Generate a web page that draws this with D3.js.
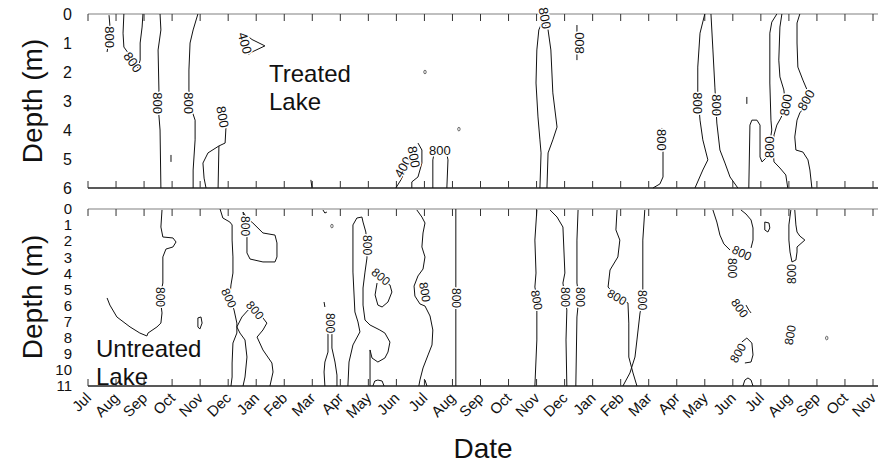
<!DOCTYPE html>
<html>
<head>
<meta charset="utf-8">
<script src="https://d3js.org/d3.v7.min.js"></script>
<style>
  body { margin: 0; background: #fff; }
  svg text { font-family: "Liberation Sans", Arial, sans-serif; fill: #111; }
</style>
</head>
<body>
<div id="chart"></div>
<script>
// month ticks, Jul (yr 1) .. Nov (yr 3)
var months = ["Jul","Aug","Sep","Oct","Nov","Dec","Jan","Feb","Mar","Apr","May","Jun",
              "Jul","Aug","Sep","Oct","Nov","Dec","Jan","Feb","Mar","Apr","May","Jun",
              "Jul","Aug","Sep","Oct","Nov"];
var treatedDepths = [0, 1, 2, 3, 4, 5, 6];
var untreatedDepths = [0, 1, 2, 3, 4, 5, 6, 7, 8, 9, 10, 11];

// contour polylines, points are [month index, depth (m)]
var treatedLines = [
  [[0.75,0.04],[0.78,0.38],[0.75,0.9],[0.68,1.31]],
  [[1.28,0],[1.25,0.66],[1.28,1.14],[1.43,1.34],[1.61,1.66],[1.78,1.86],[1.86,1.59],[1.86,1.0],[1.93,0.45],[1.96,0]],
  [[2.57,0],[2.60,0.55],[2.50,1.24],[2.53,2.62],[2.50,3.14],[2.57,4.0],[2.60,6.0]],
  [[3.92,0],[3.75,0.55],[3.64,1.0],[3.60,1.93],[3.60,2.62],[3.64,3.14],[3.82,3.66],[3.82,4.34],[3.75,5.38],[3.75,6.0]],
  [[4.92,3.93],[4.89,4.45],[4.67,4.55],[4.64,6.0]],
  [[4.67,4.55],[4.28,4.79],[4.10,5.14],[4.14,5.66],[4.21,6.0]],
  [[2.96,4.86],[2.96,5.10]],
  [[5.72,0.78],[5.85,0.88],[6.31,1.10],[5.85,1.31],[5.72,1.40]],
  [[7.95,5.72],[7.99,6.0]],
  [[10.98,6.0],[11.16,5.72],[11.48,5.1],[11.66,4.69]],
  [[11.77,4.45],[11.91,4.69],[11.91,5.14],[11.77,5.62],[11.55,5.79],[11.55,6.0]],
  [[12.30,6.0],[12.30,5.03],[12.37,4.69],[12.55,4.59],[12.77,4.69],[12.84,5.03],[12.80,6.0]],
  [[16.12,6.0],[16.16,4.79],[16.12,4.34],[16.05,3.55],[15.98,2.38],[16.01,1.24],[16.08,0.55],[16.23,0.21],[16.41,0.55],[16.51,1.24],[16.58,2.72],[16.73,3.90],[16.58,4.34],[16.41,4.79],[16.37,6.0]],
  [[17.44,0.38],[17.44,1.59]],
  [[20.15,6.0],[20.40,5.86],[20.51,5.62],[20.51,4.69],[20.47,3.93]],
  [[22.00,0],[21.83,0.66],[21.75,1.83],[21.75,2.72],[21.83,3.66],[21.93,4.34],[22.11,5.03],[21.93,5.38],[21.65,6.0]],
  [[22.22,0],[22.29,1.24],[22.36,2.52],[22.43,3.76],[22.54,4.69],[22.72,5.14],[22.90,5.62],[23.18,6.0]],
  [[24.57,0],[24.39,0.28],[24.32,0.66],[24.32,2.38],[24.36,3.66],[24.39,4.0],[24.29,4.62],[24.18,4.97],[24.04,5.10],[23.97,4.93],[23.97,3.83],[23.86,3.66],[23.68,3.66],[23.61,3.83],[23.57,6.0]],
  [[24.75,0],[24.68,0.45],[24.64,1.59],[24.68,2.17],[24.82,2.62],[24.89,3.21],[24.71,3.59],[24.57,3.83],[24.47,4.17],[24.43,4.69],[24.47,5.10],[24.68,5.31],[24.89,5.55],[24.96,6.0]],
  [[25.39,0],[25.29,0.31],[25.29,1.0],[25.32,1.83],[25.50,2.28],[25.68,2.69],[25.61,3.14],[25.39,3.41],[25.29,3.66],[25.21,4.24],[25.25,4.69],[25.50,4.76],[25.68,5.03],[25.75,5.38],[25.82,6.0]],
  [[23.50,2.86],[23.50,3.10]]
];
var treatedDots = [[12.02,2.0],[13.23,3.97]];
// contour labels: text, month index, depth, label angle
var treatedLabels = [
  ["800",0.77,0.8,90],["800",1.60,1.66,55],["800",2.50,3.07,90],["800",3.60,3.07,90],
  ["800",4.81,3.55,80],["400",5.60,1.0,75],["400",11.23,5.28,-60],["800",11.63,4.93,80],
  ["800",12.55,4.69,0],["800",16.30,0.14,80],["800",17.51,1.0,-90],["800",20.47,4.34,90],
  ["800",21.76,3.07,90],["800",22.43,3.14,90],["800",24.29,4.59,-90],["800",24.89,3.14,-80],
  ["800",25.61,2.97,-60]
];

var untreatedLines = [
  [[2.64,0.06],[2.60,1.12],[2.67,1.74],[3.03,1.80],[3.14,2.05],[3.03,2.36],[2.78,2.49],[2.67,2.98],[2.67,4.60],[2.57,5.47],[2.64,6.46],[2.60,7.09],[2.46,7.33],[2.14,7.71],[2.10,7.89],[1.85,7.71],[1.50,7.33],[1.03,6.71],[0.78,5.97],[0.68,5.53]],
  [[3.92,6.77],[4.03,6.71],[4.07,7.09],[3.99,7.46],[3.92,7.33],[3.92,6.77]],
  [[4.71,0],[4.81,0.56],[5.06,0.81],[5.14,0.99],[5.14,1.93],[5.17,2.98],[5.17,3.98],[5.10,4.72],[5.06,5.47],[5.21,6.28],[5.31,7.09],[5.31,7.71],[5.17,8.33],[5.14,9.57],[5.14,10.44],[5.10,11.0]],
  [[5.53,11],[5.60,10.44],[5.67,9.20],[5.60,8.14],[5.42,7.71],[5.31,7.33],[5.49,6.71],[5.71,6.28],[5.96,6.09],[6.24,6.77],[6.38,7.09],[6.24,7.52],[6.03,7.96],[6.24,8.76],[6.56,9.57],[6.60,10.13],[6.49,11]],
  [[5.53,0.19],[5.67,0.56],[5.88,0.87],[6.24,1.49],[6.67,1.62],[6.74,2.11],[6.74,2.98],[6.67,3.29],[6.24,3.29],[5.78,3.11],[5.67,2.73],[5.67,1.74],[5.60,1.06],[5.53,0.19]],
  [[8.38,0.06],[8.45,0.25],[8.52,0.19]],
  [[8.42,5.78],[8.45,6.09]],
  [[8.45,11],[8.42,10.13],[8.45,9.51],[8.56,8.89],[8.56,7.71],[8.63,6.77],[8.70,7.71],[8.70,8.64],[8.81,9.51],[8.88,10.32],[8.88,11]],
  [[9.27,11],[9.31,9.51],[9.45,8.45],[9.70,7.64],[9.63,7.02],[9.52,6.40],[9.45,3.92],[9.45,0.99],[9.59,0.56],[9.77,0.50],[9.81,0.81],[9.91,1.43],[9.95,2.24],[9.95,3.05],[9.88,3.92],[9.81,4.91],[9.81,5.97],[9.88,6.90],[10.06,7.21],[10.41,7.52],[10.59,7.71],[10.77,8.27],[10.70,8.89],[10.59,9.26],[10.34,9.51],[10.13,9.26],[10.06,8.76],[10.06,11]],
  [[10.16,11],[10.23,10.69],[10.34,10.63],[10.49,10.69],[10.56,11]],
  [[10.31,4.60],[10.24,5.34],[10.34,5.97],[10.49,6.09],[10.70,5.78],[10.84,5.16],[10.77,4.72],[10.63,4.60]],
  [[11.73,0.06],[11.91,0.50],[12.02,0.87],[11.95,1.49],[11.91,2.36],[12.02,2.98],[11.95,3.73],[11.77,4.16],[11.63,4.79],[11.66,5.41],[11.84,5.90],[12.02,6.03],[12.20,6.65],[12.30,7.52],[12.27,8.45],[12.13,9.07],[11.95,9.88],[11.84,10.63],[11.80,11]],
  [[12.02,10.63],[12.09,11]],
  [[13.12,0],[13.12,11]],
  [[16.01,0.06],[15.94,1.93],[15.98,3.98],[15.94,4.85],[16.01,5.53],[16.01,6.46],[16.01,8.14],[15.94,11]],
  [[16.48,0.06],[16.73,0.50],[16.94,1.12],[17.01,3.98],[16.94,4.60],[17.01,5.47],[17.08,6.28],[17.05,8.14],[17.08,11]],
  [[17.48,0.06],[17.44,1.93],[17.44,4.60],[17.51,5.47],[17.44,6.71],[17.40,11]],
  [[18.87,0.06],[18.83,1.30],[18.97,1.93],[18.90,2.98],[18.62,3.79],[18.55,4.85],[18.87,5.47],[19.26,5.84],[19.29,7.09],[19.29,9.20],[19.44,10.19],[19.58,11]],
  [[19.86,0.06],[19.79,1.93],[19.79,4.85],[19.79,5.66],[19.69,6.46],[19.58,8.14],[19.51,9.20],[19.33,10.19],[19.08,11]],
  [[22.29,0.06],[22.43,0.81],[22.54,1.62],[22.68,2.17],[22.90,2.55]],
  [[23.29,0.06],[23.47,0.31],[23.65,0.68],[23.72,1.18],[23.72,1.93],[23.65,2.42]],
  [[24.14,0.81],[24.29,0.87],[24.32,1.18],[24.25,1.43],[24.14,1.30],[24.14,0.81]],
  [[25.07,0.06],[25.00,0.99],[25.00,1.93],[25.04,2.67],[25.11,3.29],[25.25,3.17],[25.29,2.67],[25.29,2.36],[25.57,1.93],[25.39,1.68],[25.29,1.43],[25.25,0.99],[25.21,0.06]],
  [[23.47,5.97],[23.57,6.28],[23.65,6.46]],
  [[23.32,8.27],[23.50,8.02],[23.68,8.33],[23.72,9.07],[23.65,9.51],[23.43,9.57]],
  [[23.36,11],[23.43,10.63],[23.54,10.50],[23.65,10.63],[23.72,11]]
];
var untreatedDots = [[8.70,1.06],[26.35,8.02]];
var untreatedLabels = [
  ["800",2.57,5.47,90],["800",5.03,5.53,65],["800",5.96,6.28,50],["800",5.60,1.06,90],
  ["800",8.63,7.09,90],["800",9.95,2.24,90],["800",10.45,4.20,40],["800",12.02,5.16,80],
  ["800",13.12,5.53,90],["800",16.01,5.66,80],["800",17.01,5.47,90],["800",17.55,5.47,90],
  ["800",18.87,5.47,30],["800",19.79,5.66,90],["800",22.97,3.67,90],["800",23.32,2.73,25],
  ["800",25.11,4.04,-90],["800",23.25,6.15,55],["800",25.04,7.83,-80],["800",23.18,8.95,-60]
];

var W = 878, H = 468;
var svg = d3.select("#chart").append("svg")
  .attr("width", W).attr("height", H);

var x = d3.scaleLinear().domain([0, months.length - 1]).range([88, 873]);

function panel(depths, y, lines, dots, labels, fs, ylabFs) {
  var top = y.range()[0], bot = y.range()[1];
  var g = svg.append("g");

  // frame lines
  g.append("line").attr("x1", 88).attr("x2", W).attr("y1", top).attr("y2", top)
    .attr("stroke", "#aaa").attr("stroke-width", 1.5);
  g.append("line").attr("x1", 88).attr("x2", W).attr("y1", bot).attr("y2", bot)
    .attr("stroke", "#222").attr("stroke-width", 1.5);

  // inward month ticks, top and bottom
  g.selectAll(".tt").data(months).enter().append("line")
    .attr("x1", function(d, i) { return x(i); }).attr("x2", function(d, i) { return x(i); })
    .attr("y1", top).attr("y2", top + 7).attr("stroke", "#333");
  g.selectAll(".tb").data(months).enter().append("line")
    .attr("x1", function(d, i) { return x(i); }).attr("x2", function(d, i) { return x(i); })
    .attr("y1", bot).attr("y2", bot - 7).attr("stroke", "#333");

  // depth labels
  g.append("g").attr("transform", "translate(88,0)")
    .call(d3.axisLeft(y).tickValues(depths).tickFormat(d3.format("d")).tickSize(0).tickPadding(16))
    .call(function(a) { a.select(".domain").remove(); })
    .selectAll("text").attr("font-size", ylabFs).attr("fill", "#111")
    .attr("font-family", "Liberation Sans, Arial, sans-serif");

  var line = d3.line().x(function(p) { return x(p[0]); }).y(function(p) { return y(p[1]); });
  g.selectAll(".c").data(lines).enter().append("path")
    .attr("d", line).attr("fill", "none").attr("stroke", "#111").attr("stroke-width", 1);

  g.selectAll(".dot").data(dots).enter().append("ellipse")
    .attr("cx", function(p) { return x(p[0]); }).attr("cy", function(p) { return y(p[1]); })
    .attr("rx", 1.2).attr("ry", 1.8).attr("fill", "none").attr("stroke", "#444").attr("stroke-width", 0.8);

  g.selectAll(".lab").data(labels).enter().append("text")
    .attr("transform", function(l) { return "translate(" + x(l[1]) + "," + y(l[2]) + ") rotate(" + l[3] + ")"; })
    .attr("text-anchor", "middle").attr("dy", "0.36em")
    .attr("font-size", fs)
    .attr("stroke", "#fff").attr("stroke-width", 3).attr("paint-order", "stroke")
    .text(function(l) { return l[0]; });
  return g;
}

var yTop = d3.scaleLinear().domain([0, 6]).range([14, 188]);
var yBot = d3.scaleLinear().domain([0, 11]).range([209, 386]);

panel(treatedDepths, yTop, treatedLines, treatedDots, treatedLabels, 13, 16);
panel(untreatedDepths, yBot, untreatedLines, untreatedDots, untreatedLabels, 12, 15);

// month labels under the lower panel
svg.selectAll(".mlab").data(months).enter().append("text")
  .attr("transform", function(d, i) { return "translate(" + (x(i) + 4) + ",399) rotate(-45)"; })
  .attr("text-anchor", "end").attr("font-size", 15)
  .text(function(d) { return d; });

// titles
svg.append("text").attr("transform", "translate(42,101) rotate(-90)")
  .attr("text-anchor", "middle").attr("font-size", 28).text("Depth (m)");
svg.append("text").attr("transform", "translate(42,297) rotate(-90)")
  .attr("text-anchor", "middle").attr("font-size", 28).text("Depth (m)");
svg.append("text").attr("x", 483).attr("y", 458)
  .attr("text-anchor", "middle").attr("font-size", 28).text("Date");

svg.append("text").attr("x", 269).attr("y", 82).attr("font-size", 24).text("Treated");
svg.append("text").attr("x", 269).attr("y", 110).attr("font-size", 24).text("Lake");
svg.append("text").attr("x", 96).attr("y", 357).attr("font-size", 24).text("Untreated");
svg.append("text").attr("x", 96).attr("y", 385).attr("font-size", 24).text("Lake");
</script>
</body>
</html>
